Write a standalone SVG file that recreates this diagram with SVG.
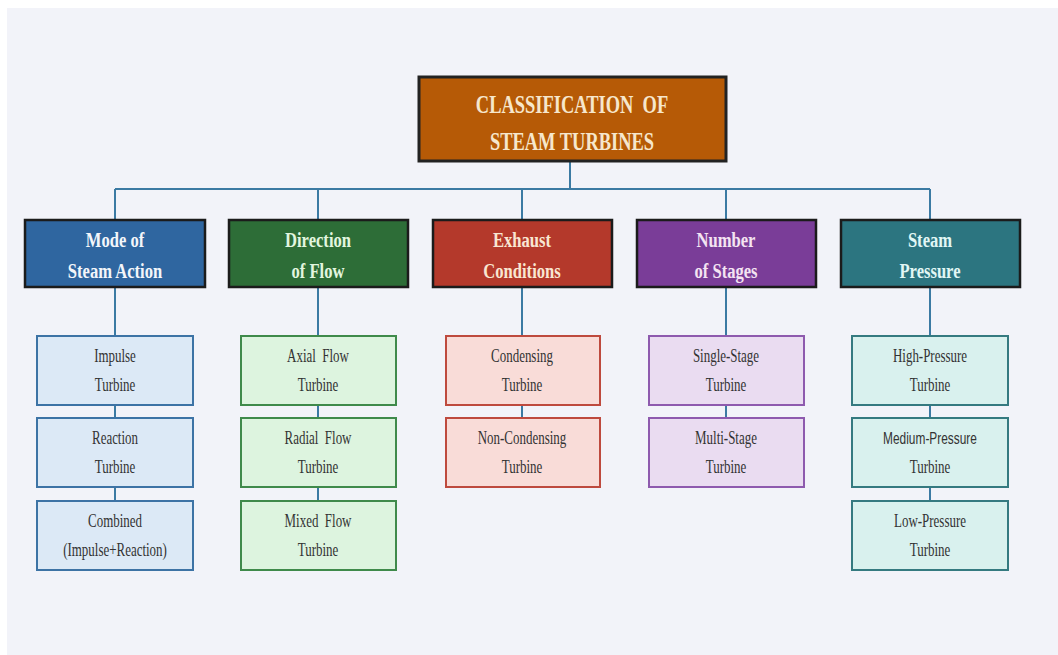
<svg xmlns="http://www.w3.org/2000/svg" width="1058" height="655" viewBox="0 0 1058 655">
<style>
text{white-space:pre}
.hd{stroke:#1b1b1b;stroke-width:2.5}
.ht{font-family:"Liberation Serif","Times New Roman",serif;font-weight:bold;font-size:21px;text-anchor:middle}
.rt{font-family:"Liberation Serif","Times New Roman",serif;font-weight:bold;font-size:26px;text-anchor:middle;fill:#F6E7CC}
.st{font-family:"Liberation Serif","Times New Roman",serif;font-size:18px;text-anchor:middle;fill:#333}
.ss{font-family:"Liberation Sans",Arial,sans-serif;font-size:17px;text-anchor:middle;fill:#333}
.sb{stroke-width:2}
.c{stroke:#3B7AA3;stroke-width:2;fill:none}
</style>
<rect x="0" y="0" width="1058" height="655" fill="#ffffff"/>
<rect x="7" y="8" width="1051" height="647" fill="#F2F3F9"/>
<g id="connectors">
<path class="c" d="M570 162V189M115 189H930M115 189V219M318 189V219M522 189V219M726 189V219M930 189V219"/>
<path class="c" d="M115 287V336M115 405V418M115 487V501"/>
<path class="c" d="M318 287V336M318 405V418M318 487V501"/>
<path class="c" d="M522 287V336M522 405V418"/>
<path class="c" d="M726 287V336M726 405V418"/>
<path class="c" d="M930 287V336M930 405V418M930 487V501"/>
</g>
<g id="root">
<rect x="419" y="77" width="307" height="84" fill="#B65A06" stroke="#222" stroke-width="3"/>
<text class="rt" transform="translate(572 113) scale(0.71 1)">CLASSIFICATION  OF</text>
<text class="rt" transform="translate(572 150) scale(0.71 1)">STEAM TURBINES</text>
</g>
<g id="mode">
<rect class="hd" x="25" y="220" width="180" height="67" fill="#2F66A0"/>
<text class="ht" fill="#F3F6FA" transform="translate(115 247) scale(0.79 1)">Mode of</text>
<text class="ht" fill="#F3F6FA" transform="translate(115 278) scale(0.79 1)">Steam Action</text>
</g>
<g id="direction">
<rect class="hd" x="229" y="220" width="179" height="67" fill="#2D6D37"/>
<text class="ht" fill="#E2F6DF" transform="translate(318 247) scale(0.79 1)">Direction</text>
<text class="ht" fill="#E2F6DF" transform="translate(318 278) scale(0.79 1)">of Flow</text>
</g>
<g id="exhaust">
<rect class="hd" x="433" y="220" width="179" height="67" fill="#B4392B"/>
<text class="ht" fill="#F9E6D2" transform="translate(522 247) scale(0.79 1)">Exhaust</text>
<text class="ht" fill="#F9E6D2" transform="translate(522 278) scale(0.79 1)">Conditions</text>
</g>
<g id="stages">
<rect class="hd" x="637" y="220" width="179" height="67" fill="#7A3D98"/>
<text class="ht" fill="#F4E4F2" transform="translate(726 247) scale(0.79 1)">Number</text>
<text class="ht" fill="#F4E4F2" transform="translate(726 278) scale(0.79 1)">of Stages</text>
</g>
<g id="pressure">
<rect class="hd" x="841" y="220" width="179" height="67" fill="#2C7580"/>
<text class="ht" fill="#E1F7F5" transform="translate(930 247) scale(0.79 1)">Steam</text>
<text class="ht" fill="#E1F7F5" transform="translate(930 278) scale(0.79 1)">Pressure</text>
</g>
<g id="impulse">
<rect class="sb" x="37" y="336" width="156" height="69" fill="#DCE9F6" stroke="#3D73A5"/>
<text class="st" transform="translate(115 362) scale(0.72 1)">Impulse</text>
<text class="st" transform="translate(115 391) scale(0.72 1)">Turbine</text>
</g>
<g id="reaction">
<rect class="sb" x="37" y="418" width="156" height="69" fill="#DCE9F6" stroke="#3D73A5"/>
<text class="st" transform="translate(115 444) scale(0.72 1)">Reaction</text>
<text class="st" transform="translate(115 473) scale(0.72 1)">Turbine</text>
</g>
<g id="combined">
<rect class="sb" x="37" y="501" width="156" height="69" fill="#DCE9F6" stroke="#3D73A5"/>
<text class="st" transform="translate(115 527) scale(0.72 1)">Combined</text>
<text class="st" transform="translate(115 556) scale(0.72 1)">(Impulse+Reaction)</text>
</g>
<g id="axial">
<rect class="sb" x="241" y="336" width="155" height="69" fill="#DDF4DF" stroke="#3F8A4B"/>
<text class="st" transform="translate(318 362) scale(0.72 1)">Axial  Flow</text>
<text class="st" transform="translate(318 391) scale(0.72 1)">Turbine</text>
</g>
<g id="radial">
<rect class="sb" x="241" y="418" width="155" height="69" fill="#DDF4DF" stroke="#3F8A4B"/>
<text class="st" transform="translate(318 444) scale(0.72 1)">Radial  Flow</text>
<text class="st" transform="translate(318 473) scale(0.72 1)">Turbine</text>
</g>
<g id="mixed">
<rect class="sb" x="241" y="501" width="155" height="69" fill="#DDF4DF" stroke="#3F8A4B"/>
<text class="st" transform="translate(318 527) scale(0.72 1)">Mixed  Flow</text>
<text class="st" transform="translate(318 556) scale(0.72 1)">Turbine</text>
</g>
<g id="condensing">
<rect class="sb" x="446" y="336" width="154" height="69" fill="#F9DCD8" stroke="#BE4A3E"/>
<text class="st" transform="translate(522 362) scale(0.72 1)">Condensing</text>
<text class="st" transform="translate(522 391) scale(0.72 1)">Turbine</text>
</g>
<g id="noncondensing">
<rect class="sb" x="446" y="418" width="154" height="69" fill="#F9DCD8" stroke="#BE4A3E"/>
<text class="st" transform="translate(522 444) scale(0.72 1)">Non-Condensing</text>
<text class="st" transform="translate(522 473) scale(0.72 1)">Turbine</text>
</g>
<g id="single">
<rect class="sb" x="649" y="336" width="155" height="69" fill="#EADCF1" stroke="#8E5AAE"/>
<text class="st" transform="translate(726 362) scale(0.72 1)">Single-Stage</text>
<text class="st" transform="translate(726 391) scale(0.72 1)">Turbine</text>
</g>
<g id="multi">
<rect class="sb" x="649" y="418" width="155" height="69" fill="#EADCF1" stroke="#8E5AAE"/>
<text class="st" transform="translate(726 444) scale(0.72 1)">Multi-Stage</text>
<text class="st" transform="translate(726 473) scale(0.72 1)">Turbine</text>
</g>
<g id="high">
<rect class="sb" x="852" y="336" width="156" height="69" fill="#D9F1EE" stroke="#357A80"/>
<text class="st" transform="translate(930 362) scale(0.72 1)">High-Pressure</text>
<text class="st" transform="translate(930 391) scale(0.72 1)">Turbine</text>
</g>
<g id="medium">
<rect class="sb" x="852" y="418" width="156" height="69" fill="#D9F1EE" stroke="#357A80"/>
<text class="ss" transform="translate(930 444) scale(0.7 1)">Medium-Pressure</text>
<text class="st" transform="translate(930 473) scale(0.72 1)">Turbine</text>
</g>
<g id="low">
<rect class="sb" x="852" y="501" width="156" height="69" fill="#D9F1EE" stroke="#357A80"/>
<text class="st" transform="translate(930 527) scale(0.72 1)">Low-Pressure</text>
<text class="st" transform="translate(930 556) scale(0.72 1)">Turbine</text>
</g>
</svg>
